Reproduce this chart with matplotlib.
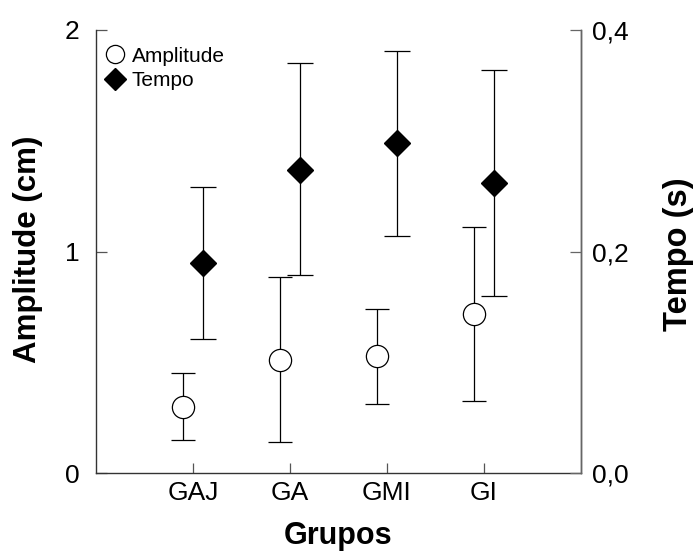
import numpy as np
import matplotlib
matplotlib.use('Agg')
import matplotlib.pyplot as plt

plt.rcParams['font.family'] = ['Liberation Sans', 'DejaVu Sans']

grupos = ['GAJ', 'GA', 'GMI', 'GI']
amplitude = [0.30, 0.51, 0.528, 0.72]
amp_sup = [0.453, 0.886, 0.74, 1.112]
amp_inf = [0.148, 0.139, 0.313, 0.326]
tempo = [0.190, 0.274, 0.298, 0.262]
tempo_sup = [0.258, 0.370, 0.381, 0.364]
tempo_inf = [0.121, 0.179, 0.214, 0.160]

pos = np.arange(1, len(grupos) + 1)
amp = np.array(amplitude)
tem = np.array(tempo)
amp_err = [amp - np.array(amp_inf), np.array(amp_sup) - amp]
tem_err = [tem - np.array(tempo_inf), np.array(tempo_sup) - tem]

fig = plt.figure(figsize=(6.95, 5.52), dpi=100)
ax = fig.add_axes([0.138, 0.143, 0.698, 0.8027])
ax2 = ax.twinx()

ax.errorbar(pos - 0.1, amp, yerr=amp_err, fmt='none', ecolor='black',
            elinewidth=0.9, capsize=8.6, capthick=0.9, zorder=2)
l1, = ax.plot(pos - 0.1, amp, 'o', ms=16, mfc='white', mec='black', mew=0.9,
              zorder=3, label='Amplitude')

ax2.errorbar(pos + 0.1, tem, yerr=tem_err, fmt='none', ecolor='black',
             elinewidth=0.9, capsize=9.7, capthick=0.9, zorder=2)
l2, = ax2.plot(pos + 0.1, tem, 'D', ms=13.7, mfc='black', mec='black',
               zorder=3, label='Tempo')

ax.set_xlim(0, 5)
ax.set_ylim(0, 2)
ax2.set_ylim(0, 0.4)

ax.set_xticks(pos)
ax.set_xticklabels(grupos)
ax.set_yticks([0, 1, 2])
ax.set_yticklabels(['0', '1', '2'])
ax2.set_yticks([0, 0.2, 0.4])
ax2.set_yticklabels(['0,0', '0,2', '0,4'])

for a in (ax, ax2):
    a.spines['top'].set_visible(False)
    for s in a.spines.values():
        s.set_linewidth(1.0)
        s.set_color('#333333')
ax2.spines['right'].set_color('#666666')
ax2.spines['left'].set_visible(False)
ax2.spines['bottom'].set_visible(False)

ax.tick_params(axis='x', direction='in', length=7, width=0.9, labelsize=19, pad=6,
               color='#555555')
ax.tick_params(axis='y', direction='in', length=8, width=0.9, labelsize=19, pad=12,
               color='#555555')
ax2.tick_params(axis='y', direction='in', length=8, width=0.9, labelsize=19, pad=8,
                color='#666666')

ax.set_xlabel('Grupos', fontsize=22, fontweight='bold', labelpad=11)
ax.set_ylabel('Amplitude (cm)', fontsize=22.5, fontweight='bold')
ax2.set_ylabel('Tempo (s)', fontsize=23.5, fontweight='bold', rotation=90)
ax.yaxis.set_label_coords(-0.109, 0.505)
ax2.yaxis.set_label_coords(1.17, 0.493)

leg = ax2.legend([l1, l2], ['Amplitude', 'Tempo'], loc='upper left',
                 bbox_to_anchor=(-0.01, 0.995), frameon=False, fontsize=15,
                 markerscale=0.82, handlelength=0.9, handletextpad=0.35,
                 labelspacing=0.25, borderaxespad=0.3)

fig.savefig('out.png', dpi=100)
